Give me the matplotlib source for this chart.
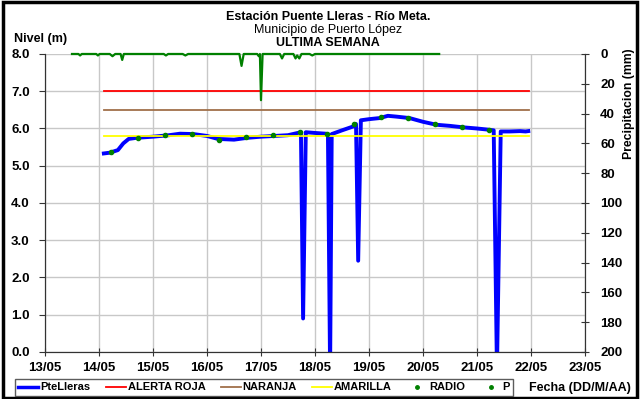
import matplotlib
matplotlib.use("Agg")
import matplotlib.pyplot as plt
from matplotlib.lines import Line2D
from matplotlib.patches import Rectangle

plt.rcParams['font.family'] = ['Liberation Sans', 'DejaVu Sans']

# days counted from 13/05 00:00
day_labels = ["13/05", "14/05", "15/05", "16/05", "17/05", "18/05",
              "19/05", "20/05", "21/05", "22/05", "23/05"]

# river level PteLleras (m)
nivel_t = [1.09, 1.2, 1.35, 1.45, 1.55, 1.7, 2.0, 2.3, 2.5, 2.75, 3.0, 3.2, 3.5,
           3.75, 4.0, 4.5, 4.74, 4.78, 4.83, 5.0, 5.2, 5.24, 5.28, 5.31, 5.5,
           5.7, 5.76, 5.8, 5.85, 6.0, 6.2, 6.35, 6.5, 6.75, 7.0, 7.25, 7.5,
           7.75, 8.0, 8.2, 8.31, 8.37, 8.44, 8.6, 8.8, 8.9, 8.95]
nivel = [5.33, 5.35, 5.42, 5.6, 5.72, 5.75, 5.78, 5.82, 5.86, 5.85, 5.8, 5.72,
         5.7, 5.75, 5.78, 5.82, 5.9, 0.9, 5.9, 5.88, 5.86, 5.85, -0.5, 5.85,
         5.95, 6.05, 6.12, 2.45, 6.22, 6.25, 6.28, 6.34, 6.32, 6.28, 6.18, 6.1,
         6.07, 6.03, 6.0, 5.97, 5.95, -0.5, 5.92, 5.92, 5.93, 5.92, 5.93]

# radio readings (m)
radio_t = [1.22, 1.72, 2.22, 2.72, 3.22, 3.72, 4.22, 4.72, 5.22, 5.72,
           6.22, 6.72, 7.22, 7.72, 8.22]
radio = [5.36, 5.75, 5.83, 5.85, 5.70, 5.78, 5.83, 5.91, 5.84, 6.12,
         6.32, 6.29, 6.12, 6.05, 5.96]

# alert thresholds (m)
alerta_roja = 7.0
naranja = 6.5
amarilla = 5.8
umbral_t = [1.09, 8.96]

# precipitation P (mm)
p_t = [0.5, 0.62, 0.65, 0.68, 0.95, 0.98, 1.01, 1.2, 1.25, 1.3, 1.4, 1.43, 1.46,
       2.2, 2.24, 2.28, 2.55, 2.6, 2.65, 3.6, 3.64, 3.68, 3.93, 3.96, 3.98,
       4.0, 4.03, 4.35, 4.39, 4.43, 4.6, 4.64, 4.67, 4.71, 4.75, 4.9, 4.95,
       5.0, 7.3]
p = [0, 0, 1, 0, 0, 1, 0, 0, 1.5, 0, 0, 4, 0,
     0, 1, 0, 0, 1, 0, 0, 8, 0, 0, 1.5, 0,
     31, 0, 0, 3, 0, 0, 3, 1, 3, 0, 0, 1,
     0, 0]

fig = plt.figure(figsize=(6.4, 3.99), dpi=100)
ax = fig.add_axes([0.0703, 0.1178, 0.8437, 0.7469])
ax2 = ax.twinx()

ax.set_xlim(0, 10)
ax.set_ylim(0, 8)
ax.set_xticks(range(11))
ax.set_xticklabels(day_labels)
ax.set_yticks([0, 1, 2, 3, 4, 5, 6, 7, 8])
ax.set_yticklabels([f"{v:.1f}" for v in range(9)])
ax.grid(True, color="#c8c8c8", linewidth=1)
ax.set_axisbelow(True)

ax.plot(nivel_t, nivel, color="#0000ff", linewidth=2.8, zorder=2)
ax.plot(umbral_t, [alerta_roja] * 2, color="#ff0000", linewidth=1.3, zorder=3)
ax.plot(umbral_t, [naranja] * 2, color="#a0704a", linewidth=1.3, zorder=3)
ax.plot(umbral_t, [amarilla] * 2, color="#ffff00", linewidth=1.3, zorder=3)
ax.plot(radio_t, radio, linestyle="none", marker="o", markersize=3.0,
        color="#008000", zorder=4)

ax2.set_ylim(200, 0)
ax2.set_yticks(range(0, 201, 20))
ax2.plot(p_t, p, color="#008000", linewidth=1.6, clip_on=False)

for a in (ax, ax2):
    a.spines["top"].set_visible(False)
    a.spines["left"].set_color("#333333")
    a.spines["right"].set_color("#333333")
    a.spines["bottom"].set_color("#333333")
ax.tick_params(axis="y", direction="out", length=4, labelsize=9.5, pad=7,
               color="#333333")
ax.tick_params(axis="x", direction="inout", length=6, labelsize=9.5, pad=4,
               color="#333333")
ax2.tick_params(axis="y", direction="inout", length=6, labelsize=9.5, pad=8,
                color="#333333")
for lab in ax.get_xticklabels() + ax.get_yticklabels() + ax2.get_yticklabels():
    lab.set_fontweight("bold")
ax2.set_ylabel("Precipitacion (mm)", fontsize=8.8, fontweight="bold")
ax2.yaxis.set_label_coords(1.071, 0.832)

fig.text(0.513, 0.958, "Estación Puente Lleras - Río Meta.", ha="center",
         va="center", fontsize=9, fontweight="bold")
fig.text(0.513, 0.925, "Municipio de Puerto López", ha="center", va="center",
         fontsize=9)
fig.text(0.513, 0.893, "ULTIMA SEMANA", ha="center", va="center",
         fontsize=9, fontweight="bold")
fig.text(0.022, 0.902, "Nivel (m)", ha="left", va="center", fontsize=9,
         fontweight="bold")
fig.text(0.985, 0.028, "Fecha (DD/M/AA)", ha="right", va="center",
         fontsize=9, fontweight="bold")

handles = [
    Line2D([], [], color="#0000ff", linewidth=2.5),
    Line2D([], [], color="#ff0000", linewidth=1.3),
    Line2D([], [], color="#a0704a", linewidth=1.3),
    Line2D([], [], color="#ffff00", linewidth=1.3),
    Line2D([], [], linestyle="none", marker="o", markersize=2.5, color="#008000"),
    Line2D([], [], linestyle="none", marker="o", markersize=2.5, color="#008000"),
]
names = ["PteLleras", "ALERTA ROJA", "NARANJA", "AMARILLA", "RADIO", "P"]
leg = fig.legend(handles, names, loc="center left",
                 bbox_to_anchor=(0.015, 0.029), ncol=6, frameon=True,
                 fancybox=False, edgecolor="#333333", handlelength=1.8,
                 handletextpad=0.15, columnspacing=1.4, borderpad=0.3,
                 prop={"weight": "bold", "size": 8})
leg.get_frame().set_linewidth(1.0)

fig.patches.append(Rectangle((0.004, 0.002), 0.992, 0.993, transform=fig.transFigure,
                             fill=False, edgecolor="black", linewidth=2.5))

fig.savefig("out.png", dpi=100)
